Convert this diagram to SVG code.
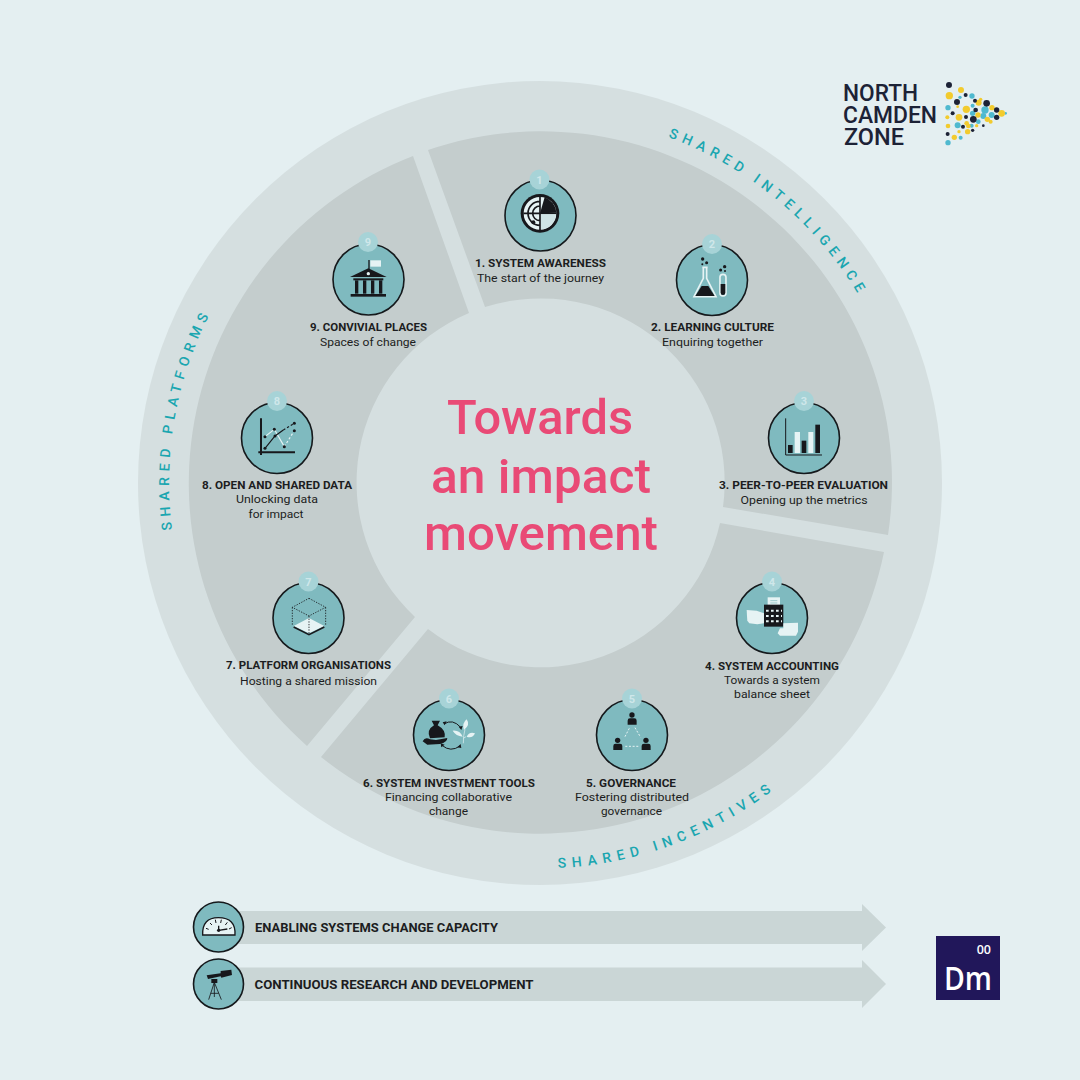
<svg xmlns="http://www.w3.org/2000/svg" width="1080" height="1080" viewBox="0 0 1080 1080">
<defs>
<style>
text{font-family:Roboto,"Liberation Sans",sans-serif;fill:#1c1d21}
.b{font-weight:700;font-size:11.5px;text-anchor:middle}
.r{font-weight:400;font-size:11.5px;text-anchor:middle}
.n{fill:#7fbabf;stroke:#15191c;stroke-width:1.6}
.bd{fill:#a7d3d7}
.bn{font-weight:700;font-size:11px;text-anchor:middle;fill:#cfe7ea}
.sec{fill:#c4cdcd}
.rim{font-weight:500;font-size:14px;fill:#1aa6b0;letter-spacing:5.5px}
.t{font-weight:500;font-size:49px;fill:#e94a76;text-anchor:middle}
.d{fill:#17181c}
.p{fill:#e6f3f4}
.ln{fill:none;stroke:#17181c}
.lp{fill:none;stroke:#e6f3f4}
.bar{fill:#cad6d6}
.bt{font-weight:700;font-size:13px}
.logo{font-weight:500;font-size:24px;fill:#1c2236}
.y{fill:#f2cb2e}.c{fill:#4fb9cf}.k{fill:#1c2236}
</style>
<path id="arcI" d="M668 137A371 371 0 0 1 911 483"/>
<path id="arcP" d="M172 530A371 371 0 0 1 540 112"/>
<path id="arcS" d="M558 868A385 385 0 0 0 925 483"/>
</defs>
<rect width="1080" height="1080" fill="#e4eff1"/>
<g id="wheel">
<circle cx="540" cy="483" r="402" fill="#d5dfe0"/>
<path class="sec" d="M428 150A351 351 0 0 1 888 535L723 507A184 184 0 0 0 485 307Z"/>
<path class="sec" d="M884 552A351 351 0 0 1 321 757L428 629A184 184 0 0 0 720 523Z"/>
<path class="sec" d="M307 746A351 351 0 0 1 413 156L469 313A184 184 0 0 0 415 617Z"/>
</g>
<g id="rim-labels">
<text class="rim"><textPath href="#arcI">SHARED INTELLIGENCE</textPath></text>
<text class="rim"><textPath href="#arcP">SHARED PLATFORMS</textPath></text>
<text class="rim" style="letter-spacing:5.9px"><textPath href="#arcS">SHARED INCENTIVES</textPath></text>
</g>
<g id="title">
<text class="t" x="540" y="434" textLength="186" lengthAdjust="spacingAndGlyphs">Towards</text>
<text class="t" x="541" y="493" textLength="220" lengthAdjust="spacingAndGlyphs">an impact</text>
<text class="t" x="541" y="550" textLength="234" lengthAdjust="spacingAndGlyphs">movement</text>
</g>
<g id="node-1">
<circle class="n" cx="540.5" cy="215.5" r="35.5"/>
<circle class="bd" cx="539.5" cy="179.5" r="10"/>
<text class="bn" x="539.5" y="183.5">1</text>
<g transform="translate(460 160) scale(.3333)">
<circle class="d" cx="240" cy="160" r="58"/>
<circle class="p" cx="240" cy="160" r="49"/>
<path class="d" d="M240 160L254 112A50 50 0 0 1 289 158Z"/>
<path class="ln" stroke-width="5" d="M204 160A36 36 0 0 1 240 124M218 160A22 22 0 0 1 240 138M204 160A36 36 0 0 0 240 196M218 160A22 22 0 0 0 240 182M240 110V210M190 160H290"/>
<circle class="d" cx="220" cy="187" r="6"/>
<path fill="#cfe3e5" d="M243 163H288A48 48 0 0 1 243 208Z"/>
</g>
<text class="b" x="540.5" y="266.5" textLength="131" lengthAdjust="spacingAndGlyphs">1. SYSTEM AWARENESS</text>
<text class="r" x="540.5" y="281.5" textLength="127" lengthAdjust="spacingAndGlyphs">The start of the journey</text>
</g>
<g id="node-2">
<circle class="n" cx="712" cy="280" r="35.5"/>
<circle class="bd" cx="712" cy="244" r="10"/>
<text class="bn" x="712" y="248">2</text>
<g transform="translate(460 160) scale(.3333)">
<path class="lp" stroke-width="5" d="M727 322H743M730 322V355L702 410H768L740 355V322"/>
<path class="d" d="M725 378H745L764 408H706Z"/>
<rect class="lp" stroke-width="5" x="780" y="343" width="18" height="65" rx="9"/>
<path class="d" d="M782 372H796V398A7 7 0 0 1 782 398Z"/>
<circle class="d" cx="728" cy="297" r="5"/><circle class="d" cx="740" cy="308" r="4.5"/><circle class="d" cx="727" cy="313" r="3"/>
<circle class="d" cx="794" cy="320" r="5"/><circle class="d" cx="782" cy="330" r="4.5"/><circle class="d" cx="795" cy="333" r="3"/>
</g>
<text class="b" x="712.5" y="330.5" textLength="123" lengthAdjust="spacingAndGlyphs">2. LEARNING CULTURE</text>
<text class="r" x="712.5" y="345.5" textLength="101" lengthAdjust="spacingAndGlyphs">Enquiring together</text>
</g>
<g id="node-3">
<circle class="n" cx="804" cy="438" r="35.5"/>
<circle class="bd" cx="804" cy="401" r="10"/>
<text class="bn" x="804" y="405">3</text>
<g transform="translate(700 380) scale(.3333)">
<path class="ln" stroke-width="3" d="M257 115V225H366"/>
<rect class="d" x="264" y="195" width="14" height="24"/>
<rect class="p" x="284" y="156" width="16" height="63"/>
<rect class="d" x="305" y="182" width="14" height="37"/>
<rect class="p" x="325" y="156" width="15" height="63"/>
<rect class="d" x="346" y="134" width="14" height="85"/>
</g>
<text class="b" x="803.5" y="488.5" textLength="169" lengthAdjust="spacingAndGlyphs">3. PEER-TO-PEER EVALUATION</text>
<text class="r" x="804" y="503.5" textLength="127" lengthAdjust="spacingAndGlyphs">Opening up the metrics</text>
</g>
<g id="node-4">
<circle class="n" cx="772" cy="618" r="35.5"/>
<circle class="bd" cx="772" cy="581.5" r="10"/>
<text class="bn" x="772" y="585.5">4</text>
<g transform="translate(700 380) scale(.3333)">
<path class="p" d="M140 690L170 692L192 700V730L172 733L148 730L142 722Z"/>
<rect class="p" x="203" y="652" width="37" height="34"/>
<path stroke="#8fc0c4" fill="none" stroke-width="2.500" d="M211 662H232M211 669H232"/>
<rect class="d" x="192" y="674" width="58" height="66"/>
<path stroke="#e6f3f4" stroke-width="6" stroke-dasharray="8 7" fill="none" d="M198 692H246M198 708H246M198 724H246"/>
<path class="p" d="M250 730L294 728V755L288 767H240L233 760L240 745H250Z"/>
</g>
<text class="b" x="772" y="669.5" textLength="134" lengthAdjust="spacingAndGlyphs">4. SYSTEM ACCOUNTING</text>
<text class="r" x="772" y="684" textLength="96" lengthAdjust="spacingAndGlyphs">Towards a system</text>
<text class="r" x="772" y="698" textLength="76" lengthAdjust="spacingAndGlyphs">balance sheet</text>
</g>
<g id="node-5">
<circle class="n" cx="632" cy="735" r="35.5"/>
<circle class="bd" cx="632" cy="698.5" r="10"/>
<text class="bn" x="632" y="702.5">5</text>
<g transform="translate(350 680) scale(.3333)">
<circle class="d" cx="846" cy="105" r="8"/><path class="d" d="M833 134V122Q833 115 840 115H853Q860 115 860 122V134Z"/>
<circle class="d" cx="803" cy="181" r="8"/><path class="d" d="M790 210V198Q790 191 797 191H810Q817 191 817 198V210Z"/>
<circle class="d" cx="888" cy="181" r="8"/><path class="d" d="M875 210V198Q875 191 882 191H895Q902 191 902 198V210Z"/>
<path class="lp" stroke-width="3" stroke-dasharray="6 5" d="M825 170L839 143M855 143L872 172M826 199H868"/>
</g>
<text class="b" x="631" y="786.5" textLength="90" lengthAdjust="spacingAndGlyphs">5. GOVERNANCE</text>
<text class="r" x="632" y="801" textLength="114" lengthAdjust="spacingAndGlyphs">Fostering distributed</text>
<text class="r" x="631.5" y="815" textLength="61" lengthAdjust="spacingAndGlyphs">governance</text>
</g>
<g id="node-6">
<circle class="n" cx="449" cy="735" r="35.5"/>
<circle class="bd" cx="449" cy="698.5" r="10"/>
<text class="bn" x="449" y="702.5">6</text>
<g transform="translate(350 680) scale(.3333)">
<path class="d" d="M245 122L270 122L263 136Q288 150 284 172L240 175Q228 150 252 136Z"/>
<path class="d" d="M218 184Q225 170 240 178L258 180L292 174Q292 186 270 192L232 194Z"/>
<path class="ln" stroke-width="3" d="M282 132Q308 115 332 142M276 196Q302 218 330 198"/>
<path class="d" d="M278 127L290 124L284 136ZM334 150L326 140L338 138ZM272 190L284 194L274 202ZM332 192L334 204L322 202Z"/>
<path class="p" d="M342 150Q335 130 350 118Q362 135 342 150ZM338 170Q318 168 308 152Q330 150 338 170ZM350 170Q358 154 375 160Q368 176 350 170Z"/>
<path class="lp" stroke-width="2" d="M340 190Q340 165 345 148M340 175L348 170"/>
</g>
<text class="b" x="449" y="786.5" textLength="172" lengthAdjust="spacingAndGlyphs">6. SYSTEM INVESTMENT TOOLS</text>
<text class="r" x="448.5" y="801" textLength="127" lengthAdjust="spacingAndGlyphs">Financing collaborative</text>
<text class="r" x="448.5" y="815" textLength="39" lengthAdjust="spacingAndGlyphs">change</text>
</g>
<g id="node-7">
<circle class="n" cx="308.5" cy="618" r="35.5"/>
<circle class="bd" cx="308.5" cy="581.5" r="10"/>
<text class="bn" x="308.5" y="585.5">7</text>
<g transform="translate(200 380) scale(.3333)">
<path class="p" d="M327 714L373 738L327 760L281 738Z"/>
<path class="ln" stroke-width="5" d="M281 741L327 764L373 741"/>
<path class="ln" stroke-width="2.5" stroke-dasharray="4 4" d="M327 655L377 682L327 708L277 682ZM277 682V735M377 682V735M327 708V760"/>
</g>
<text class="b" x="308.500" y="669" textLength="165" lengthAdjust="spacingAndGlyphs">7. PLATFORM ORGANISATIONS</text>
<text class="r" x="308.500" y="684.500" textLength="137" lengthAdjust="spacingAndGlyphs">Hosting a shared mission</text>
</g>
<g id="node-8">
<circle class="n" cx="277" cy="438" r="35.5"/>
<circle class="bd" cx="277" cy="401" r="10"/>
<text class="bn" x="277" y="405">8</text>
<g transform="translate(200 380) scale(.3333)">
<path class="ln" stroke-width="6" d="M183 115V225M175 217H285"/>
<path class="lp" stroke-width="3.5" d="M195 170L223 148L253 200"/>
<path class="lp" stroke-width="3.5" stroke-dasharray="7 6" d="M253 200L283 152"/>
<path class="ln" stroke-width="3.5" d="M195 205L225 168L250 150"/>
<path class="ln" stroke-width="3.5" stroke-dasharray="7 6" d="M250 150L283 130"/>
<g class="d"><circle cx="195" cy="170" r="4.5"/><circle cx="223" cy="148" r="4.5"/><circle cx="253" cy="200" r="4.5"/><circle cx="283" cy="152" r="4.5"/><circle cx="195" cy="205" r="4.5"/><circle cx="225" cy="168" r="4.5"/><circle cx="283" cy="130" r="4.5"/></g>
</g>
<text class="b" x="277" y="488.500" textLength="150" lengthAdjust="spacingAndGlyphs">8. OPEN AND SHARED DATA</text>
<text class="r" x="277" y="503" textLength="82" lengthAdjust="spacingAndGlyphs">Unlocking data</text>
<text class="r" x="276" y="518" textLength="55" lengthAdjust="spacingAndGlyphs">for impact</text>
</g>
<g id="node-9">
<circle class="n" cx="368.500" cy="279.500" r="35.5"/>
<circle class="bd" cx="368" cy="242" r="10"/>
<text class="bn" x="368" y="246">9</text>
<g transform="translate(300 225) scale(.3333)">
<path class="ln" stroke-width="4" d="M207 105V135"/>
<rect class="p" x="211" y="106" width="32" height="19"/>
<path class="d" d="M150 156L205 130L260 156Z"/>
<circle class="p" cx="205" cy="146" r="5"/>
<rect class="d" x="160" y="160" width="90" height="6"/>
<rect class="d" x="165" y="166" width="10" height="40"/><rect class="d" x="189" y="166" width="10" height="40"/><rect class="d" x="213" y="166" width="10" height="40"/><rect class="d" x="237" y="166" width="10" height="40"/>
<rect class="d" x="152" y="207" width="106" height="8"/>
</g>
<text class="b" x="368.500" y="330.500" textLength="117" lengthAdjust="spacingAndGlyphs">9. CONVIVIAL PLACES</text>
<text class="r" x="368" y="345.500" textLength="96" lengthAdjust="spacingAndGlyphs">Spaces of change</text>
</g>
<g id="connectors">
<path class="bar" d="M218 911H862V904L886 927.500L862 951V944H218Z"/>
<path class="bar" d="M218 967.500H862V960L886 984L862 1008V1001H218Z"/>
</g>
<g id="band-1">
<circle class="n" cx="218.500" cy="927" r="25"/>
<g transform="translate(180 895) scale(.3333)">
<path class="p" stroke="#17181c" stroke-width="4" d="M68 120Q66 68 115 68Q168 68 165 120Z"/>
<path class="ln" stroke-width="3" d="M78 100L86 103M90 84L96 90M106 74L108 84M124 74L122 84M142 82L136 90M155 98L147 102"/>
<path class="ln" stroke-width="4" d="M116 92V108M116 106L142 102"/>
<circle class="d" cx="116" cy="106" r="5"/>
</g>
<text class="bt" x="255" y="931.500" textLength="243" lengthAdjust="spacingAndGlyphs">ENABLING SYSTEMS CHANGE CAPACITY</text>
</g>
<g id="band-2">
<circle class="n" cx="218.500" cy="984" r="25"/>
<g transform="translate(180 895) scale(.3333)">
<path class="d" d="M80 241L122 235V228L154 224L156 240L124 248L122 244L84 252Z"/>
<path class="d" d="M94 252H112V264H94Z"/>
<path class="ln" stroke-width="2.500" d="M103 262L86 314M103 262L124 314M103 262V306M92 295H116"/>
</g>
<text class="bt" x="254.500" y="988.500" textLength="279" lengthAdjust="spacingAndGlyphs">CONTINUOUS RESEARCH AND DEVELOPMENT</text>
</g>
<g id="logo">
<text class="logo" x="843" y="101" textLength="75" lengthAdjust="spacingAndGlyphs">NORTH</text>
<text class="logo" x="843" y="122.500" textLength="94" lengthAdjust="spacingAndGlyphs">CAMDEN</text>
<text class="logo" x="844" y="145" textLength="60" lengthAdjust="spacingAndGlyphs">ZONE</text>
<g transform="translate(820 60) scale(.3333)">
<g class="c"><circle cx="456" cy="108" r="8"/><circle cx="384" cy="143" r="8"/><circle cx="413" cy="196" r="9"/><circle cx="384" cy="248" r="8"/><circle cx="422" cy="233" r="6"/><circle cx="495" cy="150" r="11"/><circle cx="475" cy="185" r="7"/><circle cx="458" cy="160" r="8"/><circle cx="420" cy="112" r="5"/><circle cx="458" cy="137" r="6"/><circle cx="515" cy="165" r="9"/><circle cx="557" cy="160" r="4"/><circle cx="455" cy="197" r="6"/><circle cx="490" cy="168" r="9"/></g>
<g class="y"><circle cx="423" cy="90" r="9"/><circle cx="388" cy="107" r="11"/><circle cx="417" cy="172" r="10"/><circle cx="439" cy="148" r="11"/><circle cx="476" cy="128" r="9"/><circle cx="482" cy="118" r="5"/><circle cx="474" cy="165" r="8"/><circle cx="382" cy="172" r="6"/><circle cx="384" cy="198" r="7"/><circle cx="403" cy="232" r="8"/><circle cx="417" cy="215" r="5"/><circle cx="443" cy="215" r="8"/><circle cx="445" cy="198" r="7"/><circle cx="470" cy="197" r="5"/><circle cx="502" cy="178" r="8"/><circle cx="545" cy="160" r="10"/><circle cx="512" cy="185" r="6"/><circle cx="440" cy="190" r="7"/><circle cx="516" cy="143" r="8"/><circle cx="413" cy="140" r="4"/></g>
<g class="k"><circle cx="387" cy="75" r="9"/><circle cx="411" cy="126" r="9"/><circle cx="437" cy="105" r="6"/><circle cx="398" cy="160" r="6"/><circle cx="465" cy="122" r="6"/><circle cx="500" cy="130" r="10"/><circle cx="467" cy="150" r="7"/><circle cx="530" cy="150" r="8"/><circle cx="530" cy="172" r="8"/><circle cx="438" cy="171" r="6"/><circle cx="460" cy="178" r="10"/><circle cx="429" cy="200" r="6"/><circle cx="383" cy="222" r="6"/><circle cx="490" cy="197" r="4"/><circle cx="458" cy="211" r="5"/></g>
</g>
</g>
<g id="badge">
<rect x="936" y="936" width="64" height="64" fill="#21175a"/>
<text x="991" y="954" text-anchor="end" font-size="12.500" font-weight="600" style="font-family:'Open Sans',sans-serif;fill:#fff">00</text>
<text x="968" y="990" text-anchor="middle" font-size="33" font-weight="600" style="font-family:'Open Sans',sans-serif;fill:#fff" textLength="48" lengthAdjust="spacingAndGlyphs">Dm</text>
</g>
</svg>
